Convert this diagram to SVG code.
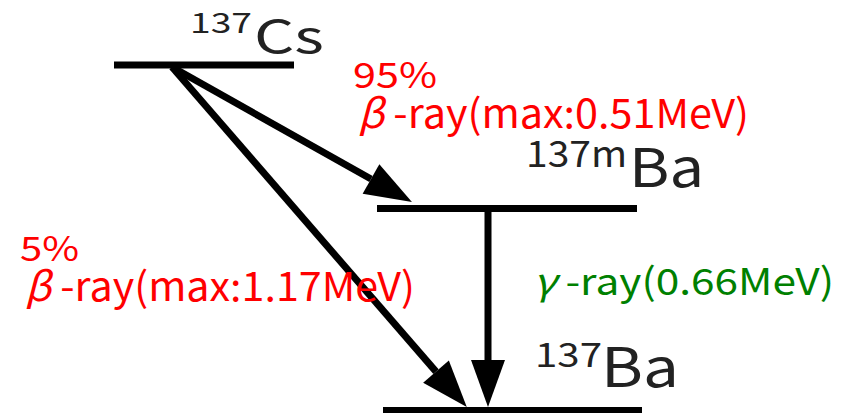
<svg xmlns="http://www.w3.org/2000/svg" width="852" height="413" viewBox="0 0 852 413">
<style>
.lvl{stroke:#000;stroke-width:7}
.arr{stroke:#000;stroke-width:7;fill:none}
.t{font-family:"Noto Sans CJK JP","Noto Sans",sans-serif;fill:#222}
.r{font-family:"Noto Sans CJK JP","Noto Sans",sans-serif;fill:#ff0000}
.g{font-family:"Noto Sans CJK JP","Noto Sans",sans-serif;fill:#008000}
.gr{font-style:italic}
</style>
<defs>
<marker id="ah" markerUnits="userSpaceOnUse" markerWidth="47" markerHeight="34" refX="0" refY="17" orient="auto" overflow="visible">
<path d="M0,0 L47,17 L0,34 z" fill="#000"/>
</marker>
</defs>
<g id="cs137">
<line class="lvl" x1="114" y1="65" x2="294" y2="65"/>
<text class="t" x="190" y="33" font-size="28" textLength="62" lengthAdjust="spacingAndGlyphs">137</text>
<text class="t" x="254" y="53" font-size="45" textLength="70" lengthAdjust="spacingAndGlyphs">Cs</text>
</g>
<g id="ba137m">
<line class="lvl" x1="377" y1="208.5" x2="637" y2="208.5"/>
<text class="t" x="526" y="167" font-size="36" textLength="101" lengthAdjust="spacingAndGlyphs">137m</text>
<text class="t" x="629" y="187" font-size="53" textLength="75" lengthAdjust="spacingAndGlyphs">Ba</text>
</g>
<g id="ba137">
<line class="lvl" x1="383" y1="410.5" x2="642" y2="410.5"/>
<text class="t" x="535" y="367" font-size="34" textLength="67" lengthAdjust="spacingAndGlyphs">137</text>
<text class="t" x="601" y="387" font-size="54" textLength="78" lengthAdjust="spacingAndGlyphs">Ba</text>
</g>
<g id="connectors">
<line class="arr" x1="172" y1="67" x2="371" y2="179" marker-end="url(#ah)"/>
<line class="arr" x1="172" y1="67" x2="436" y2="371.6" marker-end="url(#ah)"/>
<line class="arr" x1="488" y1="212" x2="488" y2="360" marker-end="url(#ah)"/>
</g>
<g id="labels">
<text class="r" x="353" y="88" font-size="35" textLength="84" lengthAdjust="spacingAndGlyphs">95%</text>
<text class="r" x="358" y="128" font-size="40" textLength="391" lengthAdjust="spacingAndGlyphs"><tspan class="gr">β</tspan> -ray(max:0.51MeV)</text>
<text class="r" x="20" y="261" font-size="34" textLength="59" lengthAdjust="spacingAndGlyphs">5%</text>
<text class="r" x="25" y="301" font-size="40" textLength="390" lengthAdjust="spacingAndGlyphs"><tspan class="gr">β</tspan> -ray(max:1.17MeV)</text>
<text class="g" x="533" y="295" font-size="37" textLength="301" lengthAdjust="spacingAndGlyphs"><tspan class="gr">γ</tspan> -ray(0.66MeV)</text>
</g>
</svg>
